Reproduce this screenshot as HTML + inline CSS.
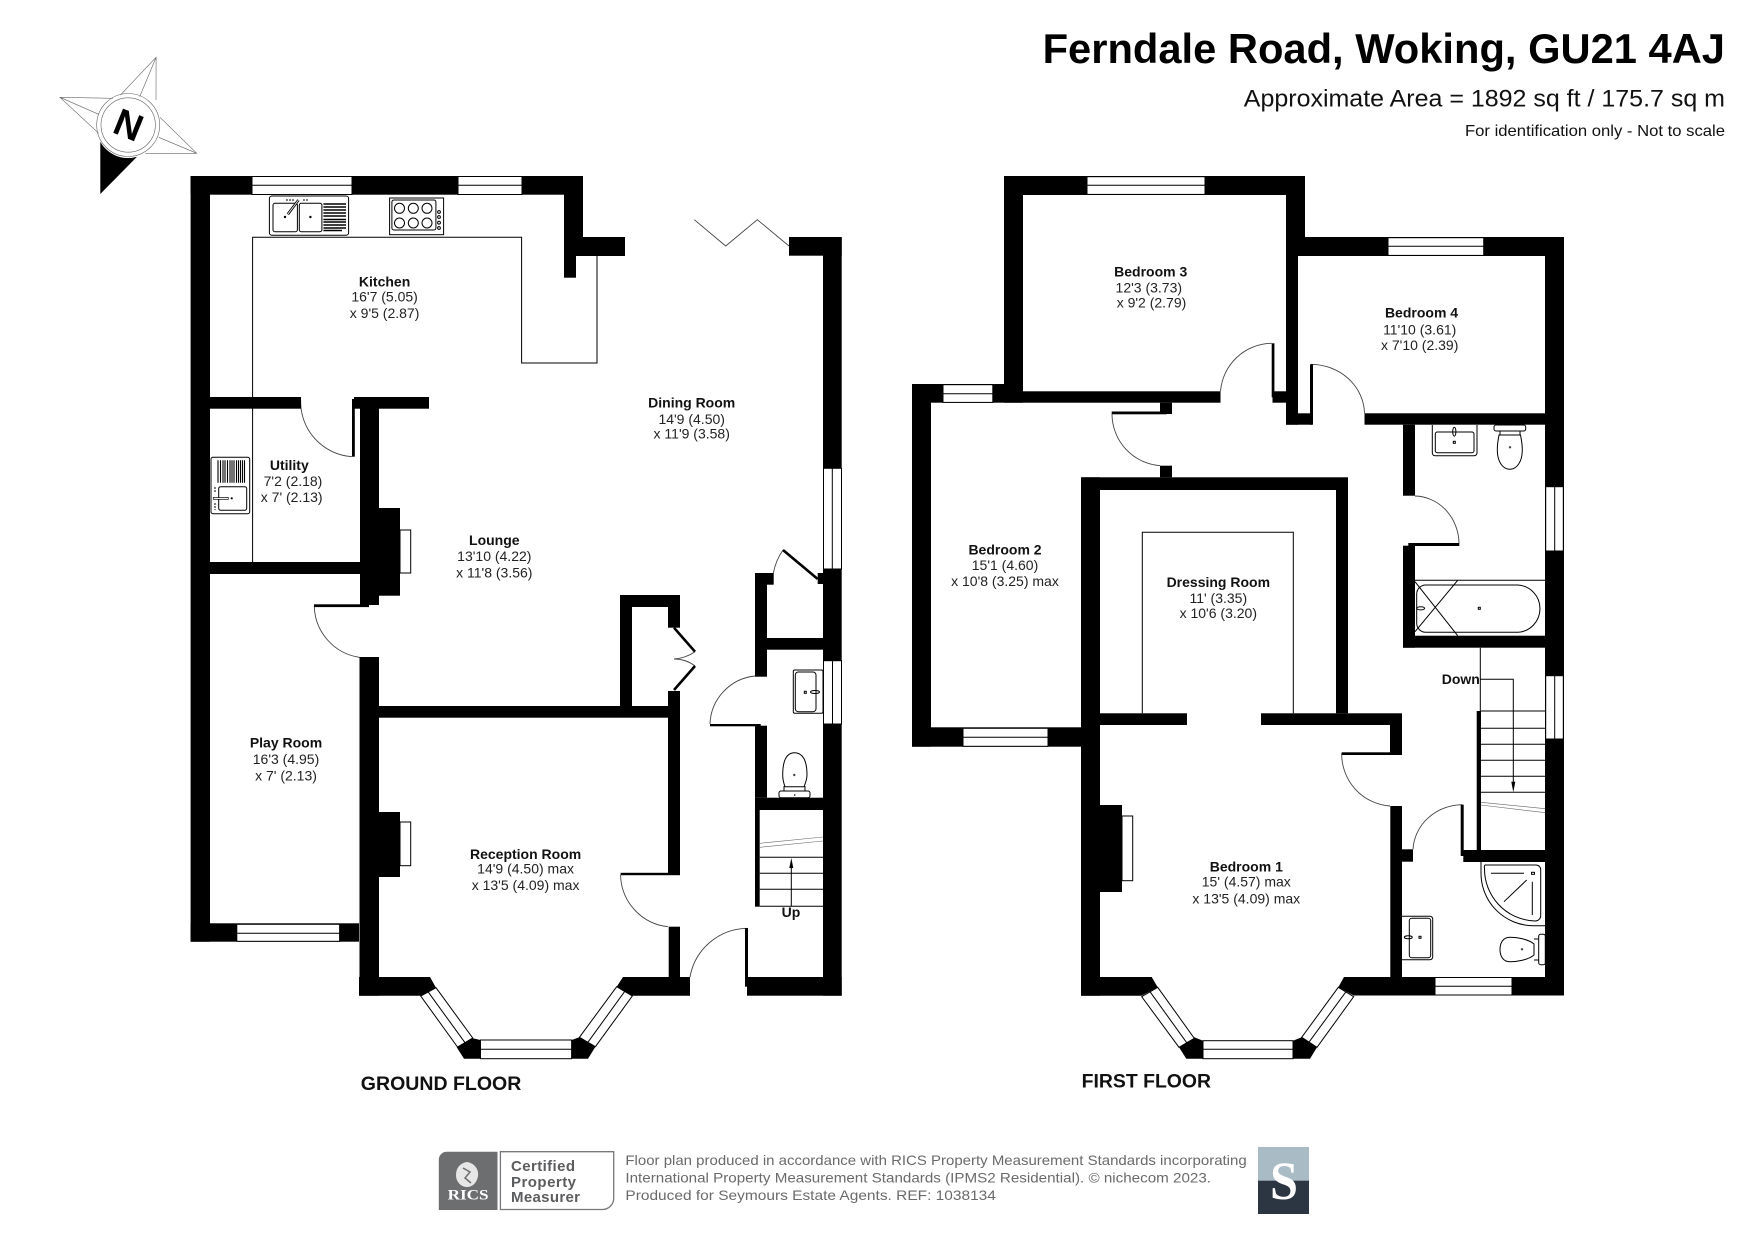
<!DOCTYPE html>
<html><head><meta charset="utf-8"><style>
html,body{margin:0;padding:0;background:#fff}
svg{display:block}
text{font-family:"Liberation Sans",Arial,sans-serif;fill:#111}
.n{font-weight:bold;font-size:14px;text-anchor:middle}
.d{font-size:14px;text-anchor:middle;fill:#222}
.w{fill:#fff;stroke:#000;stroke-width:1}
.l{fill:none;stroke:#000;stroke-width:1}
.a{fill:none;stroke:#444;stroke-width:.9}
.g{fill:none;stroke:#666;stroke-width:.6}
</style></head><body>
<svg width="1755" height="1241" viewBox="0 0 1755 1241" xmlns="http://www.w3.org/2000/svg">
<rect width="1755" height="1241" fill="#fff"/>

<!-- compass -->
<g class="g">
<path d="M120.500 95L156.100 57.300L156 100M139.700 96.700L156.100 57.300"/>
<path d="M112.900 98.300L60 97.300L98.700 133.300M98.700 114.300L60 97.300"/>
<path d="M145.400 153.300L196.700 153.300L160 117.300M158.800 137.300L196.700 153.300"/>
<circle cx="128.200" cy="125" r="31.500"/><circle cx="128.200" cy="125" r="27.200"/>
</g>
<path d="M100.300 194L100.300 141.700A31.500 31.500 0 0 0 137 156.700Z" fill="#000"/>
<text x="0" y="0" transform="translate(128.500 125) rotate(22)" style="font-size:38px;font-weight:bold;text-anchor:middle;fill:#000" dy="13">N</text>

<!-- header -->
<text x="1042.600" y="63" style="font-size:42px;font-weight:bold;fill:#000" textLength="682.400" lengthAdjust="spacingAndGlyphs">Ferndale Road, Woking, GU21 4AJ</text>
<text x="1243.800" y="106.700" style="font-size:24px" textLength="481.200" lengthAdjust="spacingAndGlyphs">Approximate Area = 1892 sq ft / 175.7 sq m</text>
<text x="1465" y="136" style="font-size:16px" textLength="260" lengthAdjust="spacingAndGlyphs">For identification only - Not to scale</text>

<!-- GROUND FLOOR thin lines -->
<path class="l" d="M252.600 400V237.300H521.600V363H597V256M252.600 408V562"/>
<path class="a" d="M300.700 400A55 55 0 0 0 352 456.700M314.300 605A53 53 0 0 0 360 657.400M620.600 875A53 53 0 0 0 668 926.700M690 977A59 59 0 0 1 746.700 928.300M710 724A50 50 0 0 1 755 676M773.300 573.300Q775.500 561 783 550"/>
<path class="a" d="M674 659Q686 658 695 651.700M674 659Q686 659 695 666"/>
<path class="a" d="M694.300 219.700L725.700 246L757.300 219.700L789 246"/>
<path d="M674 627.700L695 651.700M695 666L674 690M783 550L817.700 579" fill="none" stroke="#000" stroke-width="2.600"/>

<!-- ground walls -->
<g fill="#000">
<rect x="190.600" y="176" width="19.400" height="765.700"/>
<rect x="190.600" y="176" width="392.400" height="18.700"/>
<rect x="564" y="176" width="19" height="61.300"/>
<rect x="564" y="237" width="61" height="19"/>
<rect x="564" y="256" width="12" height="21.700"/>
<rect x="210" y="397" width="91" height="11.700"/>
<rect x="354" y="397" width="75" height="11.700"/>
<rect x="352" y="399" width="2.800" height="57.700"/>
<rect x="360" y="397" width="19" height="208"/>
<rect x="379" y="508" width="21" height="87.700"/>
<rect x="210" y="562" width="150" height="12"/>
<rect x="314" y="604.300" width="55" height="2.800"/>
<rect x="359.500" y="657" width="19.500" height="338.700"/>
<rect x="379" y="706" width="301" height="11.700"/>
<rect x="620" y="595" width="12" height="111"/>
<rect x="620" y="595" width="60" height="12"/>
<rect x="668" y="595" width="12" height="32.700"/>
<rect x="668" y="691" width="12" height="182"/>
<rect x="620.600" y="872.800" width="59.400" height="2.400"/>
<rect x="668.700" y="926.700" width="11.300" height="50.300"/>
<rect x="379" y="812" width="21" height="65"/>
<rect x="190.600" y="923.300" width="168.400" height="18.400"/>
<rect x="745" y="928" width="3" height="58.700"/>
<rect x="747" y="977" width="94.700" height="18.700"/>
<rect x="823" y="237" width="18.700" height="758.700"/>
<rect x="789" y="237" width="52.700" height="18.700"/>
<rect x="755" y="573" width="12" height="103.700"/>
<rect x="755" y="573" width="18.700" height="11.700"/>
<rect x="767" y="638" width="56" height="11.700"/>
<rect x="817.700" y="573" width="5.300" height="11"/>
<rect x="710" y="724" width="50.700" height="2.300"/>
<rect x="755" y="725.700" width="12" height="72"/>
<rect x="755" y="797.700" width="68" height="12.300"/>
<rect x="755" y="810" width="4.700" height="96.700"/>
<path d="M359 977H430L436 987.700L420.700 995.700H359Z"/>
<path d="M616.700 986.700L623 977H690V995.700H632.300Z"/>
<path d="M456.700 1047.300L472.700 1038.300L480.500 1040V1058.700H464Z"/>
<path d="M571.600 1040L579.400 1037.300L595.400 1046.700L588 1058.700H571.600Z"/>
</g>
<!-- ground windows -->
<rect class="w" x="252" y="176.500" width="100" height="18"/><path class="l" d="M252 185.300H352"/>
<rect class="w" x="458" y="176.500" width="64" height="18"/><path class="l" d="M458 185.300H522"/>
<rect class="w" x="823.500" y="468.300" width="18" height="100.700"/><path class="l" d="M832.300 468.300V569"/>
<rect class="w" x="823.500" y="660.700" width="18" height="63.300"/><path class="l" d="M832.500 660.700V724"/>
<rect class="w" x="236.800" y="924.300" width="102.800" height="17"/><path class="l" d="M236.800 933.300H339.600"/>
<rect class="w" x="480.500" y="1040" width="91.100" height="18.700"/><path class="l" d="M480.500 1049.300H571.600"/>
<path class="w" d="M420.700 996L436 987.700L472.700 1038L457.500 1047Z"/><path class="l" d="M428 991.700L465 1042.700"/>
<path class="w" d="M579.400 1037.300L616.700 986.700L632.300 996L595.400 1046.700Z"/><path class="l" d="M587.600 1042.700L624.500 991.700"/>
<!-- fireplaces -->
<rect class="l" x="400" y="530" width="10.700" height="43"/>
<rect class="l" x="400" y="822" width="10.700" height="43.700"/>

<!-- stairs ground -->
<path class="l" d="M759.700 857.300H823M759.700 873.300H823M759.700 889.300H823M759.700 906.300H823M791.300 906V864"/>
<path d="M791.300 858L789.300 868H793.300Z" fill="#000"/>
<path class="g" d="M760 843.300L823 837M760 847.300L823 841"/>
<text x="791" y="917" class="n" style="font-size:14px">Up</text>

<!-- kitchen sink -->
<g class="l" stroke-width=".9">
<rect x="269.400" y="196" width="79.200" height="39.300" rx="2.500"/>
<rect x="273" y="203.300" width="24.400" height="28.400" rx="2"/>
<rect x="299.300" y="203.300" width="22.600" height="28.400" rx="2"/>
</g>
<path d="M323.400 204H346M323.400 207H346M323.400 210H346M323.400 213H346M323.400 216H346M323.400 219.500H346M323.400 222H346M323.400 225H346M323.400 228H346M323.400 230.500H342" stroke="#000" stroke-width="1.500" fill="none"/>
<path d="M287.800 214.300L298.500 200" stroke="#000" stroke-width="2.600"/>
<path d="M287.800 214.300L298.500 200" stroke="#fff" stroke-width=".8"/>
<circle cx="285" cy="217" r="1.200"/><circle cx="310.400" cy="217" r="1.200"/>
<path class="l" d="M286 200H295M303 200H309" stroke-dasharray="2 1"/>
<!-- hob -->
<g class="l" stroke-width=".9">
<rect x="389.600" y="198" width="54" height="36.700"/>
<rect x="391.900" y="200" width="44" height="30" rx="2"/>
<circle cx="399.500" cy="208.300" r="5"/><circle cx="413.300" cy="208.300" r="5"/><circle cx="427" cy="208.300" r="5"/>
<circle cx="399.500" cy="223" r="5"/><circle cx="413.300" cy="223" r="5"/><circle cx="427" cy="223" r="5"/>
<circle cx="439" cy="212" r="1.400"/><circle cx="439" cy="217" r="1.400"/><circle cx="439" cy="222.700" r="1.400"/><circle cx="439" cy="228" r="1.400"/>
</g>
<!-- utility sink -->
<rect class="l" x="211" y="457.300" width="38.700" height="56.400" rx="2" stroke-width=".9"/>
<path d="M218 460.300V482.700M220.500 460.300V482.700M223 460.300V482.700M225 460.300V482.700M227.500 460.300V482.700M230 460.300V482.700M232 460.300V482.700M234 460.300V482.700M236.500 460.300V482.700M238.500 460.300V482.700M240.500 460.300V482.700M242.500 460.300V482.700M244.500 460.300V482.700" stroke="#000" stroke-width="1.100" fill="none"/>
<rect class="l" x="218.700" y="486.700" width="28" height="23.600" rx="2" stroke-width=".9"/>
<rect x="213.300" y="497.500" width="15" height="1.800" fill="#fff" stroke="#000" stroke-width=".7"/>
<circle cx="231.700" cy="498.300" r="1.100"/>
<path class="l" d="M215 487V493M215 503V510" stroke-dasharray="2 1"/>
<!-- WC fixtures ground -->
<g class="l" stroke-width=".9">
<rect x="793.300" y="670" width="29.700" height="43.300" rx="1.500"/>
<rect x="795.300" y="672" width="20.700" height="39.700" rx="3"/>
<rect x="804.300" y="691.300" width="2" height="2"/>
<ellipse cx="815" cy="692" rx="4.500" ry="1.500"/>
<path d="M782.700 775C782.700 760 787 752.700 794.700 752.700S807 760 807 775C807 780 805 784 804 786.700H785C784 784 782.700 780 782.700 775Z"/>
<rect x="779" y="791" width="31" height="6.700" rx="2"/>
<path d="M784 786V791M805 786V791"/>
</g>
<circle cx="794.300" cy="775" r="1.200" fill="#444"/><circle cx="794.700" cy="795" r=".8"/>

<!-- FIRST FLOOR thin -->
<path class="a" d="M1220.500 391.300A52 52 0 0 1 1271.700 343.300M1311 364.300A54 50 0 0 1 1364.500 413.300M1112 414.300A52 52 0 0 0 1160 465.700M1415 496A45 48 0 0 1 1459 543.300M1341.700 753.300A52 52 0 0 0 1390 806M1413 849.300A50 47 0 0 1 1462.300 804.700"/>
<path class="l" d="M1142.300 713.300V532.300H1293.300V713.300"/>
<rect class="l" x="1122" y="816" width="10.700" height="64.700"/>
<!-- first walls -->
<g fill="#000">
<rect x="1004" y="176" width="301" height="19"/>
<rect x="1004" y="176" width="19" height="226.700"/>
<rect x="1286" y="176" width="19" height="61"/>
<rect x="1286" y="237" width="277.800" height="19"/>
<rect x="1286" y="256" width="12" height="168.700"/>
<rect x="1286" y="413.300" width="26" height="11.400"/>
<rect x="1310" y="364.300" width="3" height="60.400"/>
<rect x="1545" y="237" width="19" height="758.500"/>
<rect x="1364.500" y="413.300" width="199.500" height="11.400"/>
<rect x="1403" y="424.700" width="12" height="71"/>
<rect x="1403" y="545.700" width="12" height="102"/>
<rect x="1408.300" y="543" width="51" height="3"/>
<rect x="1403" y="635.700" width="142" height="12"/>
<rect x="912" y="384" width="111" height="18.700"/>
<rect x="1023" y="391.300" width="197.500" height="11.400"/>
<rect x="912" y="384" width="19" height="362.700"/>
<rect x="912" y="727.300" width="169" height="19.400"/>
<rect x="1272.500" y="391.300" width="13.500" height="11.400"/>
<rect x="1271.700" y="343.300" width="2.700" height="54"/>
<rect x="1160" y="402.700" width="12" height="11.300"/>
<rect x="1111.700" y="411.500" width="55" height="2.800"/>
<rect x="1160" y="465.700" width="12" height="11.600"/>
<rect x="1081" y="477.300" width="267" height="12.700"/>
<rect x="1081" y="477.300" width="19" height="518.400"/>
<rect x="1336" y="490" width="12" height="223.300"/>
<rect x="1100" y="713.300" width="87" height="11.700"/>
<rect x="1261" y="713.300" width="141" height="11.700"/>
<rect x="1390" y="725" width="12" height="28.300"/>
<rect x="1341.700" y="752.300" width="60.300" height="2.700"/>
<rect x="1390.300" y="806" width="11.700" height="189.500"/>
<rect x="1402" y="849.300" width="11" height="12.400"/>
<rect x="1460.700" y="804.700" width="3" height="51.300"/>
<rect x="1463.300" y="850" width="82" height="12"/>
<rect x="1476.700" y="711" width="4.300" height="139"/>
<rect x="1100" y="805" width="22" height="87"/>
<path d="M1081 977H1151.700L1157.700 987.300L1141.700 995.700H1081Z"/>
<path d="M1338.300 987.300L1344 977H1564V995.500H1353.700Z"/>
<path d="M1179 1047.300L1194.300 1037.300L1203 1040.700V1058.700H1186.300Z"/>
<path d="M1293 1040.700L1301.700 1037.300L1317 1047.300L1310 1058.700H1293Z"/>
</g>
<!-- first windows -->
<rect class="w" x="1087" y="176.700" width="118" height="17.700"/><path class="l" d="M1087 185.300H1205"/>
<rect class="w" x="1388" y="237.700" width="95.700" height="17.700"/><path class="l" d="M1388 246.300H1483.700"/>
<rect class="w" x="943" y="384.700" width="49.800" height="17.700"/><path class="l" d="M943 393.700H992.800"/>
<rect class="w" x="963" y="728.300" width="85" height="18"/><path class="l" d="M963 737.300H1048"/>
<rect class="w" x="1545.700" y="486.700" width="17.600" height="64.300"/><path class="l" d="M1554.700 486.700V551"/>
<rect class="w" x="1545.700" y="675.700" width="17.600" height="63.300"/><path class="l" d="M1554.700 675.700V739"/>
<rect class="w" x="1435" y="977.500" width="77" height="17.500"/><path class="l" d="M1435 986.300H1512"/>
<rect class="w" x="1203" y="1040.700" width="90" height="18"/><path class="l" d="M1203 1049.300H1293"/>
<path class="w" d="M1141.700 996.700L1157.700 987.300L1194.300 1038.300L1179 1047.300Z"/><path class="l" d="M1150 991.700L1186.700 1042.700"/>
<path class="w" d="M1301.700 1037.300L1338.300 987.300L1353.700 996.700L1317 1047.300Z"/><path class="l" d="M1309.300 1041.700L1346 991.700"/>

<!-- bathroom -->
<g class="l" stroke-width=".9">
<path d="M1415 580.300H1545"/>
<path d="M1416.700 594A9 9 0 0 1 1425.700 585H1518A23.500 23.700 0 0 1 1518 632.300H1425.700A9 9 0 0 1 1416.700 623.300Z"/>
<path d="M1415 581.700L1457.700 635.700M1457.700 580.300L1415 631.700"/>
<ellipse cx="1420.700" cy="608.300" rx="4" ry="1.600"/>
<rect x="1478.300" y="607.300" width="2" height="2"/>
<path d="M1432.300 425V453A2.700 2.700 0 0 0 1435 455.700H1474.300A2.700 2.700 0 0 0 1477 453V425"/>
<rect x="1435.300" y="432" width="38.700" height="20.700" rx="2"/>
<ellipse cx="1454.300" cy="431.700" rx="1.600" ry="4.500"/>
<rect x="1453.300" y="441.300" width="2" height="2"/>
<rect x="1494" y="425" width="31.700" height="6" rx="2"/>
<path d="M1497.300 450C1497.300 462 1503 469.300 1509.800 469.300S1522.300 462 1522.300 450C1522.300 443 1521 438 1520.500 435H1499C1498.500 438 1497.300 443 1497.300 450ZM1500 431V435M1520 431V435"/>
</g>
<circle cx="1510" cy="447.300" r="1.200" fill="#444"/>

<!-- stairs first -->
<path class="l" d="M1480.300 647.700V711M1480.300 679.300H1513.300V786M1481 711H1545M1481 728.300H1545M1481 744.300H1545M1481 760.300H1545M1481 776.300H1545M1481 792.300H1545"/>
<path d="M1513.300 792.300L1511.300 781.700H1515.300Z" fill="#000"/>
<path class="g" d="M1481 802.300L1545.300 808.700M1481 805L1545.300 812.700"/>
<text x="1460.800" y="684" class="n">Down</text>

<!-- en suite -->
<g class="l" stroke-width=".9">
<path d="M1481 862V873A52.500 52.500 0 0 0 1533 925.700H1545"/>
<path d="M1485 865H1536A4.700 4.700 0 0 1 1540.700 870V915A5.500 5.500 0 0 1 1535 921C1505 920 1484 895 1484.500 868A3 3 0 0 1 1485 865Z"/>
<path d="M1491 873.300H1524M1532.300 881.700V915M1504 901.700L1526.700 880"/>
<rect x="1531.500" y="872.300" width="3" height="2"/>
<path d="M1401.700 916.300H1430A2.700 2.700 0 0 1 1432.700 919V957A2.700 2.700 0 0 1 1430 959.700H1401.700"/>
<rect x="1409.300" y="918.300" width="21.400" height="39.400" rx="2.500"/>
<ellipse cx="1408.300" cy="937.300" rx="4" ry="1.500"/>
<rect x="1419" y="936.300" width="2" height="2"/>
<path d="M1534 944C1528 939 1517 937.300 1510 937.300C1503 937.300 1500 943 1500 949.500C1500 956 1503 961.700 1510 961.700C1517 961.700 1528 960 1534 955Z"/>
<rect x="1538.700" y="934.300" width="6.600" height="30.400" rx="2"/>
<path d="M1534 939H1538.700M1534 960H1538.700"/>
</g>
<circle cx="1522" cy="949.300" r="1.200" fill="#444"/>

<!-- labels -->
<text class="n" x="384.600" y="286.700">Kitchen</text><text class="d" x="384.600" y="301.700">16'7 (5.05)</text><text class="d" x="384.600" y="318">x 9'5 (2.87)</text>
<text class="n" x="691.700" y="407.700">Dining Room</text><text class="d" x="691.700" y="424">14'9 (4.50)</text><text class="d" x="691.700" y="438.700">x 11'9 (3.58)</text>
<text class="n" x="494.300" y="545">Lounge</text><text class="d" x="494.300" y="561">13'10 (4.22)</text><text class="d" x="494.300" y="577.300">x 11'8 (3.56)</text>
<text class="n" x="289.300" y="470">Utility</text><text class="d" x="293" y="486">7'2 (2.18)</text><text class="d" x="291.700" y="502">x 7' (2.13)</text>
<text class="n" x="286" y="747.700">Play Room</text><text class="d" x="286" y="764">16'3 (4.95)</text><text class="d" x="286" y="780.300">x 7' (2.13)</text>
<text class="n" x="525.600" y="859">Reception Room</text><text class="d" x="525.600" y="873.700">14'9 (4.50) max</text><text class="d" x="525.600" y="890">x 13'5 (4.09) max</text>
<text class="n" x="1150.700" y="276.700">Bedroom 3</text><text class="d" x="1148.800" y="292.700">12'3 (3.73)</text><text class="d" x="1151.500" y="307.700">x 9'2 (2.79)</text>
<text class="n" x="1421.500" y="317.700">Bedroom 4</text><text class="d" x="1419.700" y="334.300">11'10 (3.61)</text><text class="d" x="1419.700" y="350">x 7'10 (2.39)</text>
<text class="n" x="1005" y="554.700">Bedroom 2</text><text class="d" x="1005" y="570">15'1 (4.60)</text><text class="d" x="1005" y="586">x 10'8 (3.25) max</text>
<text class="n" x="1218.300" y="587">Dressing Room</text><text class="d" x="1218.300" y="603">11' (3.35)</text><text class="d" x="1218.300" y="618">x 10'6 (3.20)</text>
<text class="n" x="1246.300" y="871.700">Bedroom 1</text><text class="d" x="1246.300" y="886.700">15' (4.57) max</text><text class="d" x="1246.300" y="903.300">x 13'5 (4.09) max</text>
<text x="360.800" y="1090" style="font-size:19px;font-weight:bold" textLength="160.500" lengthAdjust="spacingAndGlyphs">GROUND FLOOR</text>
<text x="1081.700" y="1087.700" style="font-size:19px;font-weight:bold" textLength="129.300" lengthAdjust="spacingAndGlyphs">FIRST FLOOR</text>

<!-- footer -->
<path d="M447 1151.700H497.500V1210H438.800V1160A8 8 0 0 1 447 1151.700Z" fill="#6d6e70"/>
<path d="M467 1162C474 1163 479 1169 478 1176C477 1182 473 1187 467 1187C461 1187 456 1182 456 1175C456 1168 460 1163 467 1162Z" fill="#e6e6e6"/>
<path d="M463 1168L470 1172L465 1178L471 1183" fill="none" stroke="#6d6e70" stroke-width="1.500"/>
<text x="447.600" y="1199.300" style="font-family:'Liberation Serif',serif;font-size:15px;font-weight:bold;fill:#fff" textLength="41" lengthAdjust="spacingAndGlyphs">RICS</text>
<path d="M500.400 1151.700H613.700V1198A11.300 11.300 0 0 1 602.400 1209.500H500.400Z" fill="#fff" stroke="#77787a" stroke-width="1.300"/>
<text x="511" y="1171" style="font-size:15px;font-weight:bold;fill:#5c5d5f" textLength="64" lengthAdjust="spacing">Certified</text>
<text x="511" y="1187" style="font-size:15px;font-weight:bold;fill:#5c5d5f" textLength="65" lengthAdjust="spacing">Property</text>
<text x="511" y="1202" style="font-size:15px;font-weight:bold;fill:#5c5d5f" textLength="69" lengthAdjust="spacing">Measurer</text>
<g style="font-size:14px">
<text x="625.400" y="1165" style="fill:#6a6a6a" textLength="621.300" lengthAdjust="spacingAndGlyphs">Floor plan produced in accordance with RICS Property Measurement Standards incorporating</text>
<text x="625.400" y="1182.300" style="fill:#6a6a6a" textLength="585.600" lengthAdjust="spacingAndGlyphs">International Property Measurement Standards (IPMS2 Residential).   © nichecom 2023.</text>
<text x="625.400" y="1200" style="fill:#6a6a6a" textLength="370.500" lengthAdjust="spacingAndGlyphs">Produced for Seymours Estate Agents.   REF:  1038134</text>
</g>
<rect x="1258" y="1147" width="51" height="34" fill="#a9bbc5"/>
<rect x="1258" y="1180.700" width="51" height="33.300" fill="#2c3642"/>
<text x="1270" y="1199" style="font-family:'Liberation Serif',serif;font-size:54px;font-weight:bold;fill:#fff" textLength="28" lengthAdjust="spacingAndGlyphs">S</text>
</svg>
</body></html>
